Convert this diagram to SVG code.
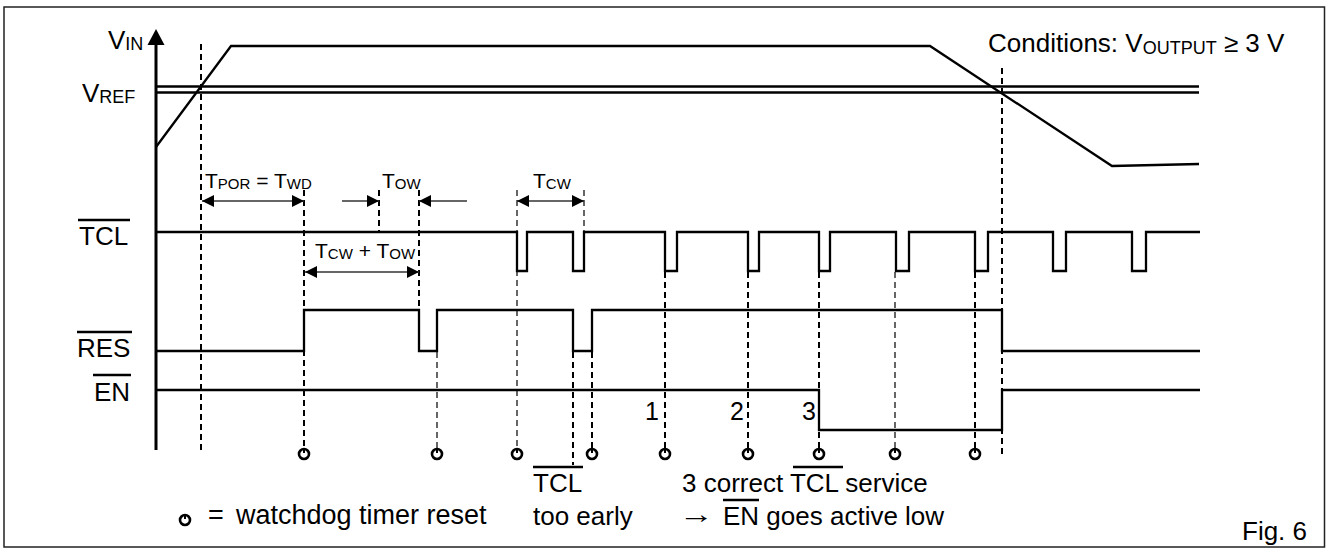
<svg xmlns="http://www.w3.org/2000/svg" width="1327" height="548" viewBox="0 0 1327 548">
<style>
.t{font-family:"Liberation Sans",Arial,Helvetica,sans-serif;fill:#000}
.lab{font-size:26px}
.sm{font-size:21px}
.sig{fill:none;stroke:#000;stroke-width:2.3;stroke-linejoin:miter}
.ov{stroke:#000;stroke-width:2.5}
.dk{fill:none;stroke:#000;stroke-width:2;stroke-dasharray:6 4}
.dn{fill:none;stroke:#000;stroke-width:1.2;stroke-dasharray:6 4}
.arr{stroke:#333;stroke-width:1.3;fill:none}
.wd{fill:#fff;stroke:#000;stroke-width:2.6}
</style>
<defs>
<marker id="ah" markerUnits="userSpaceOnUse" markerWidth="13" markerHeight="12" refX="12" refY="6" orient="auto-start-reverse">
<path d="M0,0 L12,6 L0,12 Z" fill="#000"/>
</marker>
<g id="wdsym">
<circle cx="0" cy="0" r="5" class="wd"/>
<line x1="0" y1="-6" x2="0" y2="-1" stroke="#000" stroke-width="2"/>
</g>
</defs>
<rect x="4" y="7" width="1320.5" height="540" fill="#fff" stroke="#222" stroke-width="1.5"/>

<g id="axis">
<line x1="156" y1="44" x2="156" y2="450" stroke="#000" stroke-width="3"/>
<polygon points="156,29 147.5,45 164.5,45" fill="#000"/>
<text class="t lab" x="108" y="49">V<tspan font-size="18" dy="1">IN</tspan></text>
<text class="t lab" x="82" y="102">V<tspan font-size="18" dy="1">REF</tspan></text>
</g>

<g id="conditions">
<text class="t lab" x="988" y="52">Conditions: V<tspan font-size="18" dy="2">OUTPUT</tspan><tspan dy="-2"> ≥ 3 V</tspan></text>
</g>

<g id="vin">
<path class="sig" stroke-width="2" d="M156,147 L231,46 H930 L1112,166 L1199,164"/>
</g>
<g id="vref">
<path class="sig" stroke-width="2.2" d="M156,86.5 H1199 M156,92.5 H1199"/>
</g>

<g id="tcl">
<text class="t lab" x="79" y="245">TCL</text>
<line class="ov" x1="78" y1="220" x2="130" y2="220"/>
<path class="sig" d="M156,232 H517 V271 H527 V232 H573 V271 H584 V232 H665 V271 H677 V232 H748 V271 H759 V232 H819 V271 H830 V232 H896 V271 H909 V232 H975 V271 H988 V232 H1053 V271 H1066 V232 H1132 V271 H1146 V232 H1200"/>
</g>

<g id="res">
<text class="t lab" x="77" y="357">RES</text>
<line class="ov" x1="77" y1="332" x2="132" y2="332"/>
<path class="sig" d="M156,351 H304 V310 H419 V351 H437 V310 H573 V351 H592 V310 H1002 V351 H1200"/>
</g>

<g id="en">
<text class="t lab" x="94" y="401">EN</text>
<line class="ov" x1="93" y1="375" x2="131" y2="375"/>
<path class="sig" d="M156,390 H819 V430 H1002 V390 H1200"/>
<text class="t" font-size="25" x="659" y="420" text-anchor="end">1</text>
<text class="t" font-size="25" x="744" y="420" text-anchor="end">2</text>
<text class="t" font-size="25" x="816" y="420" text-anchor="end">3</text>
</g>

<g id="connectors">
<line class="dk" x1="201" y1="44" x2="201" y2="453"/>
<line class="dk" x1="304" y1="190" x2="304" y2="448"/>
<line class="dk" x1="379" y1="190" x2="379" y2="232"/>
<line class="dk" x1="419" y1="190" x2="419" y2="310"/>
<line class="dn" x1="437" y1="352" x2="437" y2="448"/>
<line class="dn" x1="517" y1="190" x2="517" y2="448"/>
<line class="dn" x1="584" y1="190" x2="584" y2="232"/>
<line class="dk" x1="573" y1="352" x2="573" y2="465"/>
<line class="dk" x1="592" y1="352" x2="592" y2="448"/>
<line class="dk" x1="665" y1="272" x2="665" y2="448"/>
<line class="dk" x1="748" y1="272" x2="748" y2="448"/>
<line class="dk" x1="819" y1="272" x2="819" y2="448"/>
<line class="dn" x1="895" y1="272" x2="895" y2="448"/>
<line class="dk" x1="975" y1="272" x2="975" y2="448"/>
<line class="dk" x1="1002" y1="68" x2="1002" y2="456"/>

<line class="arr" x1="202" y1="201" x2="304" y2="201" marker-start="url(#ah)" marker-end="url(#ah)"/>
<line class="arr" x1="342" y1="201" x2="379" y2="201" marker-end="url(#ah)"/>
<line class="arr" x1="467" y1="201" x2="419" y2="201" marker-end="url(#ah)"/>
<line class="arr" x1="517" y1="201" x2="584" y2="201" marker-start="url(#ah)" marker-end="url(#ah)"/>
<line class="arr" x1="305" y1="272" x2="419" y2="272" marker-start="url(#ah)" marker-end="url(#ah)"/>
</g>

<g id="timing-labels">
<text class="t sm" x="205" y="188">T<tspan font-size="15" dy="1">POR</tspan><tspan dy="-1"> = T</tspan><tspan font-size="15" dy="1">WD</tspan></text>
<text class="t sm" x="382" y="188">T<tspan font-size="15" dy="1">OW</tspan></text>
<text class="t sm" x="533" y="188">T<tspan font-size="15" dy="1">CW</tspan></text>
<text class="t sm" x="315" y="258">T<tspan font-size="15" dy="1">CW</tspan><tspan dy="-1"> + T</tspan><tspan font-size="15" dy="1">OW</tspan></text>
</g>

<g id="watchdog-resets">
<use href="#wdsym" x="304" y="454"/>
<use href="#wdsym" x="437" y="454"/>
<use href="#wdsym" x="517" y="454"/>
<use href="#wdsym" x="592" y="454"/>
<use href="#wdsym" x="665" y="454"/>
<use href="#wdsym" x="748" y="454"/>
<use href="#wdsym" x="819" y="454"/>
<use href="#wdsym" x="895" y="454"/>
<use href="#wdsym" x="975" y="454"/>
</g>

<g id="legend">
<use href="#wdsym" x="185" y="520"/>
<text class="t" font-size="27" x="208" y="524">=</text>
<text class="t" font-size="27" x="236" y="524">watchdog timer reset</text>
</g>

<g id="note-early">
<text class="t" font-size="26" x="533" y="492">TCL</text>
<line class="ov" x1="533" y1="467" x2="583" y2="467"/>
<text class="t" font-size="26" x="533" y="525">too early</text>
</g>

<g id="note-correct">
<text class="t" font-size="26" x="682" y="492">3 correct TCL service</text>
<line class="ov" x1="793" y1="467" x2="843" y2="467"/>
<text class="t" font-size="26" transform="translate(679,523) scale(1.35,1)">→</text>
<text class="t" font-size="26" x="723" y="525">EN goes active low</text>
<line class="ov" x1="723" y1="500" x2="759" y2="500"/>
</g>

<g id="fig">
<text class="t" font-size="26" x="1242" y="540">Fig. 6</text>
</g>
</svg>
